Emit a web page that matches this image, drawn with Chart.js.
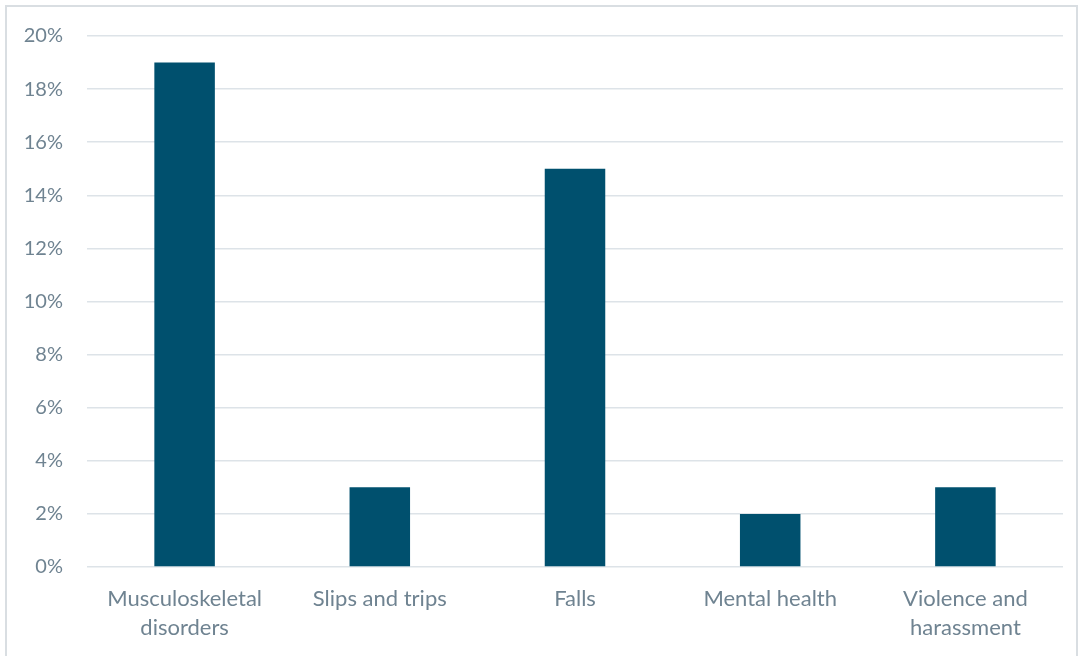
<!DOCTYPE html>
<html>
<head>
<meta charset="utf-8">
<script src="https://cdn.jsdelivr.net/npm/chart.js@4/dist/chart.umd.min.js"></script>
<style>
  html, body { margin: 0; padding: 0; background: #fff; }
  #wrap { position: relative; width: 1084px; height: 656px; overflow: hidden; }
  #frame { position: absolute; left: 5px; top: 5px; width: 1073px; height: 700px; border: 2px solid #D9DEE2; box-sizing: border-box; }
  canvas { position: absolute; left: 0; top: 0; }
</style>
</head>
<body>
<div id="wrap">
  <div id="frame"></div>
  <canvas id="chart" width="1084" height="656"></canvas>
</div>
<script>
// データ
const categories = [
    ['Musculoskeletal', 'disorders'],
    'Slips and trips',
    'Falls',
    'Mental health',
    ['Violence and', 'harassment']
];
const shares = [19, 3, 15, 2, 3]; // %

const textColor = '#6F8391';
const gridColor = '#DDE3E8';
const barColor = '#00506E';

const ctx = document.getElementById('chart').getContext('2d');
new Chart(ctx, {
    type: 'bar',
    data: {
        labels: categories,
        datasets: [{
            data: shares,
            backgroundColor: barColor,
            barPercentage: 0.31,
            categoryPercentage: 1
        }]
    },
    options: {
        responsive: false,
        animation: false,
        layout: { padding: { top: 35, right: 21, left: 0, bottom: 0 } },
        plugins: {
            legend: { display: false },
            tooltip: { enabled: false }
        },
        scales: {
            x: {
                grid: { display: false },
                border: { display: false },
                ticks: {
                    color: textColor,
                    font: { family: 'Lato', size: 22, lineHeight: 1.3 },
                    padding: 10,
                    maxRotation: 0
                },
                afterFit: scale => { scale.height = 89; }
            },
            y: {
                min: 0,
                max: 20,
                ticks: {
                    stepSize: 2,
                    color: textColor,
                    font: { family: 'Lato', size: 20 },
                    padding: 24,
                    callback: v => v + '%'
                },
                grid: { color: gridColor, lineWidth: 1.5, drawTicks: false },
                border: { display: false },
                afterFit: scale => { scale.width = 87; }
            }
        }
    }
});
</script>
</body>
</html>
